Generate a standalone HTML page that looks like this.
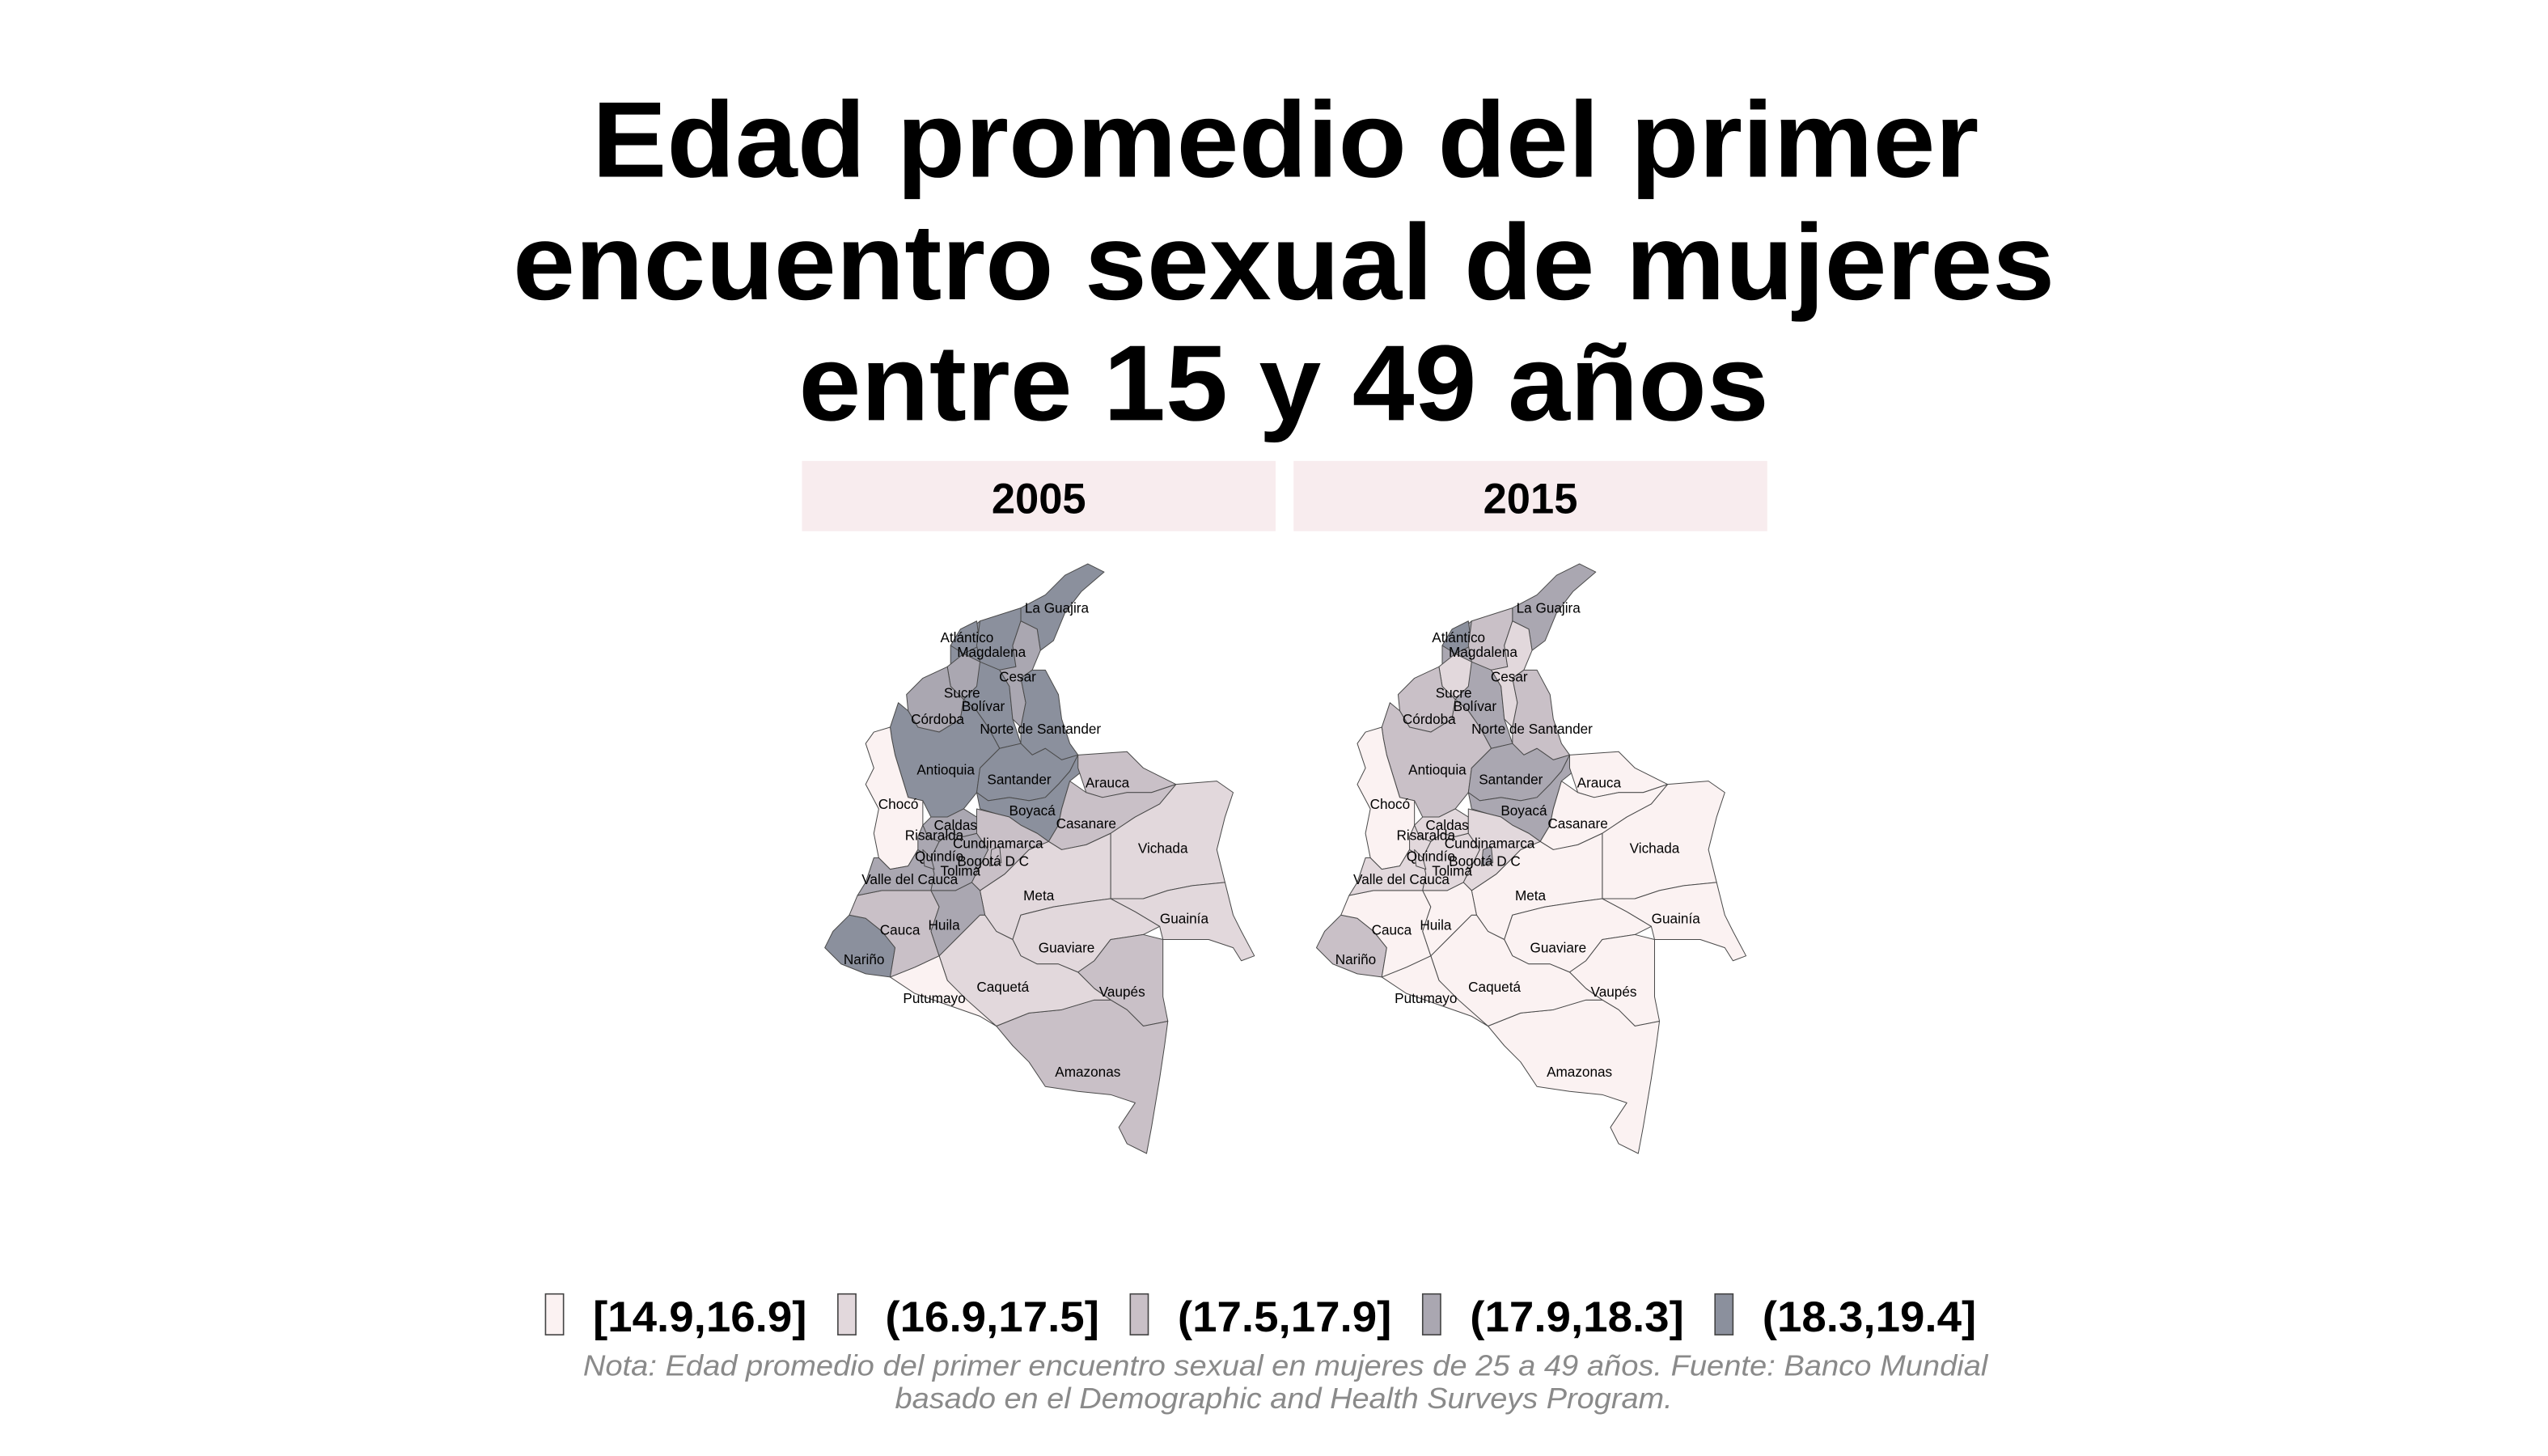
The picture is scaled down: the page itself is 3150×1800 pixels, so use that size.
<!DOCTYPE html>
<html><head><meta charset="utf-8"><style>
html,body{margin:0;padding:0;background:#fff;}
svg{display:block;}
</style></head><body>
<svg id="chart" width="3150" height="1800" viewBox="0 0 1560 891" xmlns="http://www.w3.org/2000/svg" font-family="Liberation Sans, sans-serif">
<rect width="1560" height="891" fill="#fff"/>
<g font-weight="bold" font-size="66" text-anchor="middle" fill="#000">
<text x="787" y="108" textLength="849" lengthAdjust="spacingAndGlyphs">Edad promedio del primer</text>
<text x="786" y="183" textLength="944" lengthAdjust="spacingAndGlyphs">encuentro sexual de mujeres</text>
<text x="786" y="257" textLength="594" lengthAdjust="spacingAndGlyphs">entre 15 y 49 años</text>
</g>
<g id="panels"></g>
<g id="legend"></g>
<g font-style="italic" font-size="18" fill="#8a8a8a" text-anchor="middle">
<text x="787" y="842" textLength="860" lengthAdjust="spacingAndGlyphs">Nota: Edad promedio del primer encuentro sexual en mujeres de 25 a 49 años. Fuente: Banco Mundial</text>
<text x="786" y="862" textLength="476" lengthAdjust="spacingAndGlyphs">basado en el Demographic and Health Surveys Program.</text>
</g>
</svg>
<script>
const years = ["2005","2015"];
const legendLabels = ["[14.9,16.9]","(16.9,17.5]","(17.5,17.9]","(17.9,18.3]","(18.3,19.4]"];
const departments = ["Bolívar","La Guajira","Atlántico","Magdalena","Cesar","Sucre","Córdoba","Norte de Santander","Antioquia","Santander","Chocó","Boyacá","Arauca","Casanare","Vichada","Meta","Guainía","Guaviare","Vaupés","Amazonas","Caquetá","Putumayo","Nariño","Cauca","Huila","Valle del Cauca","Tolima","Caldas","Risaralda","Quindío","Cundinamarca","Bogotá D C"];
const class2005 = [5,5,5,5,4,4,4,5,5,5,1,5,3,3,2,2,2,2,3,3,2,1,5,3,4,4,4,4,4,4,3,3];
const class2015 = [4,4,5,3,2,2,3,3,3,4,1,4,1,1,1,1,1,1,1,1,1,1,3,1,1,2,2,2,2,2,2,4];
const palette = ["#fbf2f2","#e2d8dc","#c9c0c7","#aaa7b1","#8b909d"];
const shapes = {
"Bolívar":[[582,395],[600,380],[612,410],[618,420],[620,440],[625,455],[612,458],[605,445],[598,435],[590,428],[582,420]],
"La Guajira":[[625,372],[640,364],[652,352],[666,345],[676,350],[662,362],[652,375],[645,392],[637,398],[635,385],[625,380]],
"Atlántico":[[582,395],[588,385],[598,380],[600,395],[590,400]],
"Magdalena":[[600,380],[625,372],[625,380],[620,395],[622,408],[612,410],[600,405],[598,395]],
"Cesar":[[625,380],[635,385],[637,398],[632,410],[625,415],[628,430],[625,445],[620,440],[618,420],[612,410],[622,408],[620,395]],
"Sucre":[[580,408],[590,400],[600,405],[598,420],[590,428],[582,420]],
"Córdoba":[[555,425],[565,415],[580,408],[582,420],[590,428],[588,440],[575,448],[562,445],[556,435]],
"Norte de Santander":[[625,415],[632,410],[640,410],[648,425],[650,440],[655,455],[660,462],[650,465],[640,458],[632,462],[625,455],[625,445],[628,430]],
"Antioquia":[[545,445],[550,430],[556,435],[562,445],[575,448],[588,440],[590,428],[598,435],[605,445],[612,458],[600,470],[598,485],[590,495],[580,500],[570,500],[565,490],[556,488],[552,475],[548,462],[546,452]],
"Santander":[[612,458],[625,455],[632,462],[640,458],[650,465],[660,462],[655,472],[648,480],[640,488],[630,490],[618,488],[605,490],[598,485],[600,470]],
"Chocó":[[535,448],[545,445],[546,452],[548,462],[552,475],[556,488],[565,490],[565,505],[562,520],[556,530],[545,532],[538,525],[535,510],[538,495],[530,480],[535,470],[530,455]],
"Boyacá":[[598,485],[605,490],[618,488],[630,490],[640,488],[648,480],[655,472],[660,462],[665,470],[655,478],[650,495],[648,505],[642,515],[635,510],[625,505],[618,500],[610,498],[600,495]],
"Arauca":[[660,462],[690,460],[700,470],[720,480],[705,485],[690,485],[675,488],[665,485],[660,470]],
"Casanare":[[655,478],[665,485],[675,488],[690,485],[705,485],[720,480],[710,492],[695,500],[680,510],[665,517],[650,520],[642,515],[648,505],[650,495]],
"Vichada":[[720,480],[745,478],[755,485],[750,500],[745,520],[750,540],[730,542],[715,545],[700,550],[680,550],[680,510],[695,500],[710,492]],
"Meta":[[600,545],[615,535],[630,520],[642,515],[650,520],[665,517],[680,510],[680,550],[665,552],[645,555],[625,560],[620,575],[610,570],[603,560]],
"Guainía":[[680,550],[700,550],[715,545],[730,542],[750,540],[755,560],[760,570],[768,585],[760,588],[755,580],[740,575],[720,575],[712,575],[710,567],[695,558]],
"Guaviare":[[620,575],[625,560],[645,555],[665,552],[680,550],[695,558],[710,567],[700,572],[680,575],[670,588],[660,595],[648,590],[635,590],[625,585]],
"Vaupés":[[670,588],[680,575],[700,572],[712,575],[712,590],[712,610],[715,625],[700,628],[690,618],[680,612],[670,605],[660,595]],
"Amazonas":[[610,628],[630,620],[650,618],[670,612],[680,612],[690,618],[700,628],[715,625],[713,640],[710,660],[705,690],[702,706],[690,700],[685,690],[695,675],[680,670],[660,668],[640,665],[630,650],[620,640]],
"Caquetá":[[575,585],[585,575],[600,560],[603,560],[610,570],[620,575],[625,585],[635,590],[648,590],[660,595],[670,605],[680,612],[670,612],[650,618],[630,620],[610,628],[600,620],[590,612],[580,600]],
"Putumayo":[[545,598],[560,592],[575,585],[580,600],[592,612],[610,628],[600,622],[580,615],[560,608]],
"Nariño":[[505,580],[510,570],[520,560],[530,562],[540,570],[548,580],[545,598],[530,596],[515,590]],
"Cauca":[[520,560],[525,548],[540,545],[555,545],[570,545],[575,555],[570,570],[575,585],[560,592],[545,598],[548,580],[540,570],[530,562]],
"Huila":[[570,545],[585,545],[595,540],[600,545],[603,560],[600,560],[585,575],[575,585],[570,570],[575,555]],
"Valle del Cauca":[[530,540],[535,525],[538,525],[545,532],[556,530],[562,520],[570,525],[572,535],[570,545],[555,545],[540,545],[525,548]],
"Tolima":[[575,515],[582,510],[590,512],[598,510],[605,520],[600,530],[595,540],[585,545],[570,545],[572,535],[570,525]],
"Caldas":[[565,505],[570,500],[580,500],[590,495],[598,500],[598,510],[590,512],[582,510],[575,515],[568,512]],
"Risaralda":[[562,512],[565,505],[568,512],[575,515],[570,525],[562,520]],
"Quindío":[[565,520],[570,525],[572,532],[566,530]],
"Cundinamarca":[[598,495],[610,498],[618,500],[625,505],[635,510],[642,515],[630,520],[615,535],[600,545],[595,540],[600,530],[605,520],[598,510],[598,500]],
"Bogotá D C":[[607,520],[612,518],[613,528],[606,530]]
};
const labelPos = {"La Guajira":[647,375],"Atlántico":[592,393],"Magdalena":[607,402],"Cesar":[623,417],"Sucre":[589,427],"Bolívar":[602,435],"Córdoba":[574,443],"Norte de Santander":[637,449],"Antioquia":[579,474],"Santander":[624,480],"Arauca":[678,482],"Chocó":[550,495],"Boyacá":[632,499],"Casanare":[665,507],"Caldas":[585,508],"Risaralda":[572,514],"Cundinamarca":[611,519],"Vichada":[712,522],"Quindío":[575,527],"Bogotá D C":[608,530],"Tolima":[588,536],"Valle del Cauca":[557,541],"Meta":[636,551],"Guainía":[725,565],"Huila":[578,569],"Cauca":[551,572],"Guaviare":[653,583],"Nariño":[529,590],"Caquetá":[614,607],"Vaupés":[687,610],"Putumayo":[572,614],"Amazonas":[666,659]};
const classes = [class2005, class2015];
const NS="http://www.w3.org/2000/svg";
const panels=document.getElementById('panels');
years.forEach((yr,pi)=>{
  const dx = pi*301;
  const g=document.createElementNS(NS,'g');
  
  
  const strip=document.createElementNS(NS,'rect');
  strip.setAttribute('x',491+dx);strip.setAttribute('y',282);strip.setAttribute('width',290);strip.setAttribute('height',43);strip.setAttribute('fill','#f8ecee');
  
  
  g.appendChild(strip);
  const st=document.createElementNS(NS,'text');
  st.setAttribute('x',636+dx);st.setAttribute('y',314);st.setAttribute('text-anchor','middle');st.setAttribute('font-size','26');st.setAttribute('font-weight','bold');
  st.textContent=yr;
  
  
  g.appendChild(st);
  departments.forEach((d,i)=>{
    const p=document.createElementNS(NS,'polygon');
    p.setAttribute('points',shapes[d].map(q=>(q[0]+dx)+','+q[1]).join(' '));
    p.setAttribute('fill',palette[classes[pi][i]-1]);
    p.setAttribute('stroke','#4a4a4a');p.setAttribute('stroke-width','0.5');p.setAttribute('stroke-linejoin','round');
    
    
    g.appendChild(p);
  });
  departments.forEach(d=>{
    const t=document.createElementNS(NS,'text');
    const lp=labelPos[d];
    t.setAttribute('x',lp[0]+dx);t.setAttribute('y',lp[1]);t.setAttribute('text-anchor','middle');t.setAttribute('font-size','8.5');t.setAttribute('fill','#000');
    t.textContent=d;
    
    
    g.appendChild(t);
  });
  panels.appendChild(g);
});
const lg=document.getElementById('legend');
legendLabels.forEach((lab,i)=>{
  const x=334+i*179;
  const r=document.createElementNS(NS,'rect');
  r.setAttribute('x',x);r.setAttribute('y',792);r.setAttribute('width',11);r.setAttribute('height',25);
  r.setAttribute('fill',palette[i]);r.setAttribute('stroke','#444');r.setAttribute('stroke-width','0.8');
  
  
  lg.appendChild(r);
  const t=document.createElementNS(NS,'text');
  t.setAttribute('x',x+29);t.setAttribute('y',815);t.setAttribute('font-size','26');t.setAttribute('font-weight','bold');
  t.setAttribute('textLength','131');t.setAttribute('lengthAdjust','spacingAndGlyphs');
  t.textContent=lab;
  
  
  lg.appendChild(t);
});
</script>
</body></html>
